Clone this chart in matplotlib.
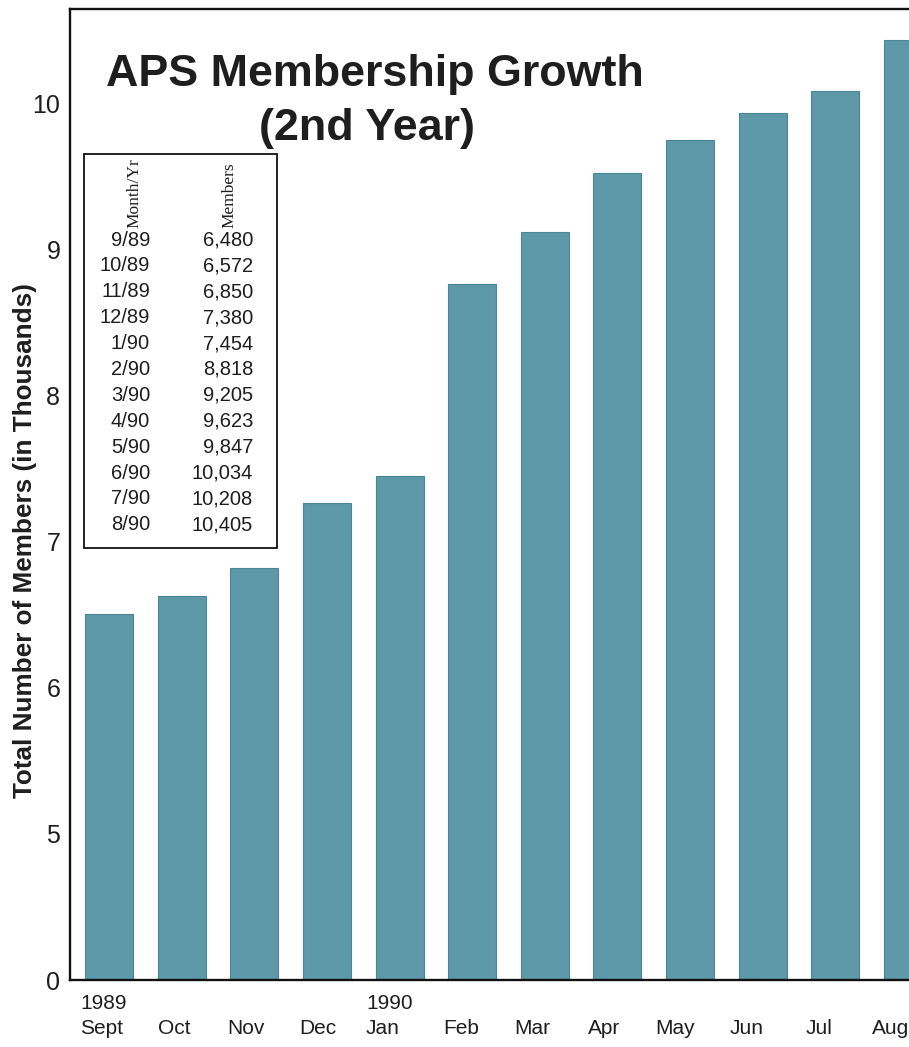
import numpy as np
import matplotlib
matplotlib.use("Agg")
import matplotlib.pyplot as plt
import matplotlib.patches as mpatches

# dados do grafico
meses = ['Sept', 'Oct', 'Nov', 'Dec', 'Jan', 'Feb', 'Mar', 'Apr', 'May', 'Jun', 'Jul', 'Aug']
anos = {'Sept': '1989', 'Jan': '1990'}
# alturas das barras (milhares)
barras = [6.51, 6.63, 6.82, 7.27, 7.45, 8.77, 9.12, 9.53, 9.75, 9.94, 10.09, 10.44]
# tabela impressa no grafico
mes_ano = ['9/89', '10/89', '11/89', '12/89', '1/90', '2/90', '3/90', '4/90',
           '5/90', '6/90', '7/90', '8/90']
membros = [6480, 6572, 6850, 7380, 7454, 8818, 9205, 9623, 9847, 10034, 10208, 10405]
yticks = [0, 5, 6, 7, 8, 9, 10]

W, H = 909, 1047
cor_barra = '#5e99aa'
cor_texto = '#1e1e1e'
fonte = ['Liberation Sans', 'DejaVu Sans']

def fx(x):
    return x / W

def fy(y):
    return 1 - y / H

# eixo quebrado: 0..5 comprimido em uma unidade
def fwd(v):
    v = np.asarray(v, dtype=float)
    return np.where(v < 5, v / 5.0, v - 4.0)

def inv(u):
    u = np.asarray(u, dtype=float)
    return np.where(u < 1, u * 5.0, u + 4.0)

plt.rcParams['font.family'] = fonte
fig = plt.figure(figsize=(W / 100, H / 100), dpi=100)
fig.patch.set_facecolor('white')

ax = fig.add_axes([fx(70), fy(980), 1.05 - fx(70), fy(9) - fy(980)])
ax.set_yscale('function', functions=(fwd, inv))

x = np.arange(len(meses))
ax.bar(x, barras, width=0.66, color=cor_barra, edgecolor='#4a8597', linewidth=0.8)

ax.set_xlim(-0.537, 11.64)
ax.set_ylim(0, 10.65)
ax.set_yticks(yticks)
ax.set_yticklabels([str(t) for t in yticks], fontsize=18, color=cor_texto)
ax.minorticks_off()

# rotulos do eixo x um pouco mais juntos que as barras (como no original)
rotulos = [anos.get(m, '') + '\n' + m for m in meses]
ax.set_xticks(x * 0.985 - 0.08)
ax.set_xticklabels(rotulos, fontsize=15, color=cor_texto, multialignment='left',
                   linespacing=1.4)

ax.tick_params(axis='y', length=0, pad=7)
ax.tick_params(axis='x', length=0, pad=10)
ax.spines['right'].set_visible(False)
for s in ['left', 'bottom', 'top']:
    ax.spines[s].set_linewidth(1.7)
    ax.spines[s].set_color('#111111')

# rotulo do eixo y
fig.text(fx(25), fy(541), 'Total Number of Members (in Thousands)', rotation=90,
         ha='center', va='center', fontsize=18.8, fontweight='bold', color=cor_texto)

# titulo
fig.text(fx(375), fy(86), 'APS Membership Growth', ha='center', va='baseline',
         fontsize=32.3, fontweight='bold', color=cor_texto)
fig.text(fx(367), fy(140), '(2nd Year)', ha='center', va='baseline',
         fontsize=32.3, fontweight='bold', color=cor_texto)

# tabela
caixa = mpatches.Rectangle((fx(84), fy(548)), fx(277) - fx(84), fy(154) - fy(548),
                           transform=fig.transFigure, facecolor='white',
                           edgecolor='#111111', linewidth=1.3, zorder=5)
fig.add_artist(caixa)
serif = ['Liberation Serif', 'DejaVu Serif']
fig.text(fx(134), fy(228), 'Month/Yr', rotation=90, ha='center', va='bottom',
         fontsize=12.5, family=serif, color=cor_texto, zorder=6)
fig.text(fx(229), fy(228), 'Members', rotation=90, ha='center', va='bottom',
         fontsize=12.5, family=serif, color=cor_texto, zorder=6)
for i, (m, v) in enumerate(zip(mes_ano, membros)):
    yy = fy(240 + i * 25.9)
    fig.text(fx(150), yy, m, ha='right', va='center', fontsize=14.5,
             color=cor_texto, zorder=6)
    fig.text(fx(253), yy, f"{v:,}", ha='right', va='center', fontsize=14.5,
             color=cor_texto, zorder=6)

fig.savefig('out.png', dpi=100)
